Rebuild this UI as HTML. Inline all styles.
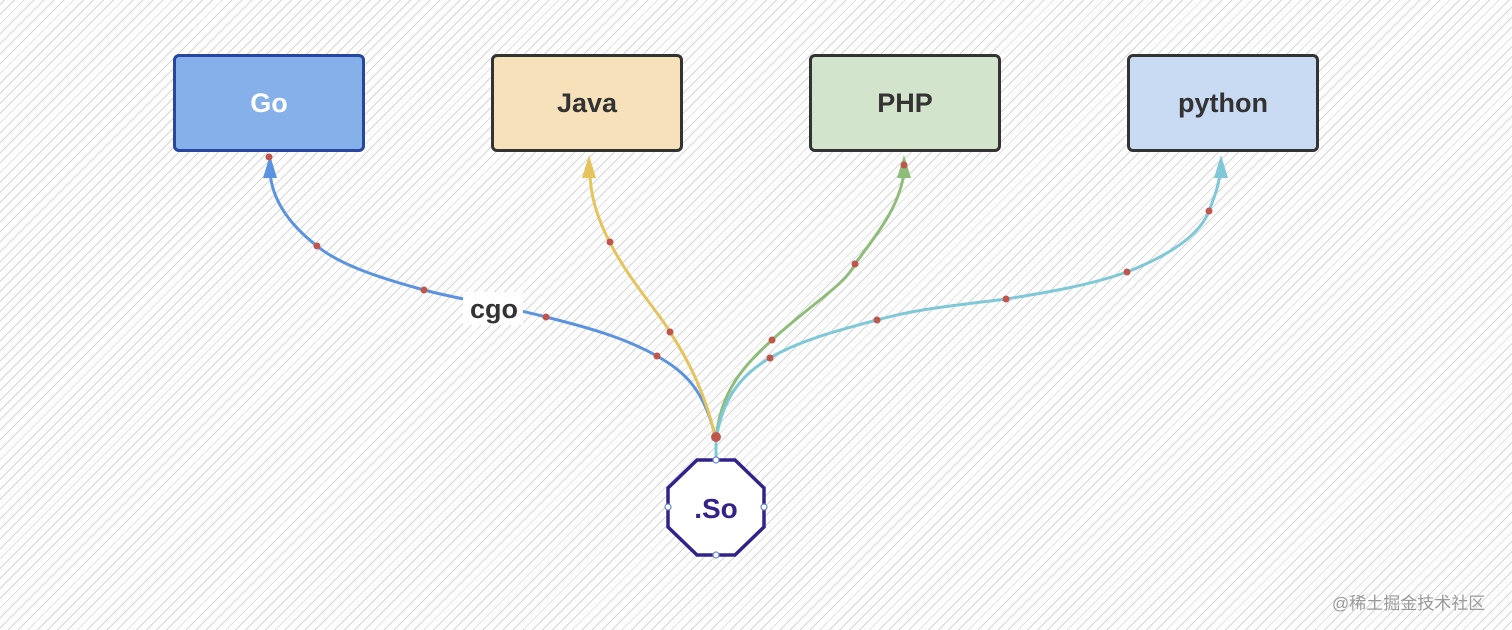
<!DOCTYPE html>
<html><head><meta charset="utf-8"><style>
html,body{margin:0;padding:0}
body{width:1512px;height:630px;overflow:hidden;position:relative;
background:#fff repeating-linear-gradient(-45deg,#fff 0,#fff 6px,#d6d6d6 6px,#d6d6d6 7px);
font-family:"Liberation Sans","Noto Sans CJK SC",sans-serif}
.box{position:absolute;top:54px;width:186px;height:92px;border:3px solid #333;border-radius:6px;
display:flex;align-items:center;justify-content:center;font-weight:bold;font-size:27px;color:#333}
.wm{position:absolute;left:1332px;top:589px;font-size:17px;color:#9a9a9a}
</style></head><body>
<div class="box" style="left:173px;background:#86b0ea;border-color:#2746a0;color:#fff">Go</div>
<div class="box" style="left:491px;background:#f6e1bb">Java</div>
<div class="box" style="left:809px;background:#d2e4cc">PHP</div>
<div class="box" style="left:1127px;background:#c8dbf3">python</div>
<svg width="1512" height="630" style="position:absolute;left:0;top:0">
<g fill="none" stroke-width="3">
<path d="M716,440 C705,390 685,372 657,356 C625,338 590,328 546,317 C500,305 462,300 424,290 C380,278 340,265 317,246 C290,225 272,200 270,172" stroke="#5b93e0"/>
<path d="M716,440 C705,390 685,355 670,332 C655,305 590,240 590,172" stroke="#e6c35c"/>
<path d="M716,440 C720,390 745,365 772,340 C810,305 845,285 855,264 C880,230 900,205 904,172" stroke="#8ebd7a"/>
<path d="M716,440 C722,400 740,375 770,358 C800,340 840,330 877,320 C920,308 960,305 1006,299 C1050,292 1090,285 1127,272 C1170,255 1200,235 1209,211 C1215,195 1219,185 1220,172" stroke="#7ec8d8"/>
<path d="M716,440 L716,460" stroke="#7ec8d8"/>
</g>
<polygon points="270,155 263,178 277,178" fill="#5b93e0"/>
<polygon points="589,155 582,178 596,178" fill="#e6c35c"/>
<polygon points="904,155 897,178 911,178" fill="#8ebd7a"/>
<polygon points="1221,155 1214,178 1228,178" fill="#7ec8d8"/>
<g fill="#c0564b">
<circle cx="269" cy="157" r="3.5"/><circle cx="317" cy="246" r="3.5"/><circle cx="424" cy="290" r="3.5"/>
<circle cx="546" cy="317" r="3.5"/><circle cx="657" cy="356" r="3.5"/>
<circle cx="610" cy="242" r="3.5"/><circle cx="670" cy="332" r="3.5"/>
<circle cx="904" cy="165" r="3.5"/><circle cx="855" cy="264" r="3.5"/><circle cx="772" cy="340" r="3.5"/>
<circle cx="1209" cy="211" r="3.5"/><circle cx="1127" cy="272" r="3.5"/><circle cx="1006" cy="299" r="3.5"/>
<circle cx="877" cy="320" r="3.5"/><circle cx="770" cy="358" r="3.5"/>
<circle cx="716" cy="437" r="5"/>
</g>
<rect x="463" y="292" width="60" height="33" fill="#fff"/>
<text x="494" y="318" text-anchor="middle" font-family="Liberation Sans" font-weight="bold" font-size="27" fill="#333">cgo</text>
<polygon points="697,460 735,460 764,488 764,527 735,555 697,555 668,527 668,488" fill="#fff" stroke="#33228a" stroke-width="3.5"/>
<text x="716" y="518" text-anchor="middle" font-family="Liberation Sans" font-weight="bold" font-size="28" fill="#33228a">.So</text>
<g fill="#fff" stroke="#6688cc" stroke-width="1.2">
<circle cx="716" cy="460" r="3"/><circle cx="668" cy="507" r="3"/><circle cx="764" cy="507" r="3"/><circle cx="716" cy="555" r="3"/>
</g>
</svg>
<div class="wm">@稀土掘金技术社区</div>
</body></html>
